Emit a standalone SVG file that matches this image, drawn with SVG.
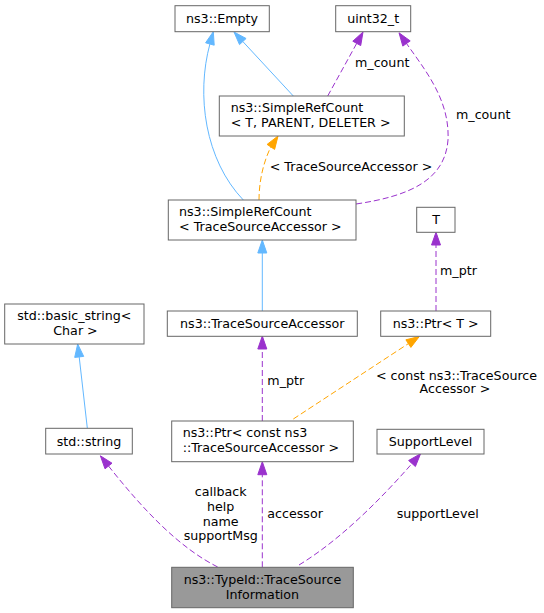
<svg xmlns="http://www.w3.org/2000/svg" width="544" height="613" viewBox="0 0 544 613">
<style>
text{font-family:"DejaVu Sans","Noto Sans",sans-serif;font-size:12.67px;fill:#000}
.m{text-anchor:middle}
.box{fill:#fff;stroke:#666;stroke-width:1}
.cur{fill:#999;stroke:#666;stroke-width:1}
.b{fill:none;stroke:#63b8ff;stroke-width:1}
.p{fill:none;stroke:#9a32cd;stroke-width:1;stroke-dasharray:6,3}
.o{fill:none;stroke:#ffa500;stroke-width:1;stroke-dasharray:6,3}
.bh{fill:#63b8ff;stroke:#63b8ff}
.ph{fill:#9a32cd;stroke:#9a32cd}
.oh{fill:#ffa500;stroke:#ffa500}
</style>
<rect width="544" height="613" fill="#fff"/>
<g id="connectors">
<path class="b" d="M243.3,200 C205,160 196,95 209.9,44"/>
<polygon class="bh" points="213.3,31.7 214.2,45.2 205.6,42.8"/>
<path class="b" d="M293.3,96 L242.8,41.5"/>
<polygon class="bh" points="234,32 246.1,38.5 239.5,44.6"/>
<path class="p" d="M327.7,96 L356.7,43.4"/>
<polygon class="ph" points="363,32 360.7,45.6 352.8,41.2"/>
<text x="355" y="67">m_count</text>
<path class="p" d="M356,204 C410,196 445,180 448,140 C450,100 425,70 406.5,43.5"/>
<polygon class="ph" points="399,32.8 410.2,40.9 402.8,46.1"/>
<text x="456" y="119">m_count</text>
<path class="o" d="M259,200 C259,182 263,163 270.85,146.9"/>
<polygon class="oh" points="278,136 274.6,149.4 267.1,144.4"/>
<text class="m" x="351" y="170.5">&lt; TraceSourceAccessor &gt;</text>
<path class="b" d="M262.3,311 L262.3,253"/>
<polygon class="bh" points="262.3,240 266.8,253 257.8,253"/>
<path class="p" d="M436,311 L436,245"/>
<polygon class="ph" points="436,232.3 440.5,245 431.5,245"/>
<text x="440" y="275">m_ptr</text>
<path class="b" d="M87.3,428 L79.2,356.9"/>
<polygon class="bh" points="77.7,344 83.7,356.4 74.7,357.4"/>
<path class="p" d="M262.3,421 L262.3,349"/>
<polygon class="ph" points="262.3,336 266.8,349 257.8,349"/>
<text x="267.3" y="385">m_ptr</text>
<path class="o" d="M293.3,419 L408.4,343.6"/>
<polygon class="oh" points="419.3,336.5 410.9,347.4 405.9,339.8"/>
<text class="m" x="456.5" y="379.5">&lt; const ns3::TraceSource</text>
<text class="m" x="455" y="393">Accessor &gt;</text>
<path class="p" d="M217.7,567 C180,548 145,512 108.5,466"/>
<polygon class="ph" points="100.4,455.8 112,463.2 105,468.8"/>
<text class="m" x="220.7" y="496">callback</text>
<text class="m" x="220.7" y="511">help</text>
<text class="m" x="220.7" y="525.5">name</text>
<text class="m" x="220.7" y="540">supportMsg</text>
<path class="p" d="M262.3,567.3 L262.3,474.7"/>
<polygon class="ph" points="262.3,461.7 266.8,474.7 257.8,474.7"/>
<text x="267.3" y="518">accessor</text>
<path class="p" d="M299,565 C340,540 380,500 412,463.5"/>
<polygon class="ph" points="420.6,453.7 415.4,466.5 408.6,460.5"/>
<text x="396.7" y="518">supportLevel</text>
</g>
<g id="node-empty"><rect class="box" x="175" y="5.7" width="94.3" height="26"/><text class="m" x="222" y="22.5">ns3::Empty</text></g>
<g id="node-uint32"><rect class="box" x="335.7" y="5.7" width="75" height="26"/><text class="m" x="373.2" y="22.5">uint32_t</text></g>
<g id="node-src-tpd"><rect class="box" x="219.3" y="96" width="185" height="40"/><text x="230.7" y="112">ns3::SimpleRefCount</text><text x="230.7" y="127">&lt; T, PARENT, DELETER &gt;</text></g>
<g id="node-src-tsa"><rect class="box" x="168.3" y="200" width="187.7" height="40"/><text x="179" y="216">ns3::SimpleRefCount</text><text x="179" y="231">&lt; TraceSourceAccessor &gt;</text></g>
<g id="node-t"><rect class="box" x="416.7" y="207.3" width="38.3" height="25"/><text class="m" x="436" y="224">T</text></g>
<g id="node-basic-string"><rect class="box" x="4.7" y="304" width="139.3" height="40"/><text class="m" x="74.3" y="320">std::basic_string&lt;</text><text class="m" x="75.5" y="335">Char &gt;</text></g>
<g id="node-tsa"><rect class="box" x="167.3" y="311" width="190" height="25.3"/><text class="m" x="262.3" y="327.5">ns3::TraceSourceAccessor</text></g>
<g id="node-ptr-t"><rect class="box" x="380.7" y="311" width="110" height="25.3"/><text class="m" x="435.7" y="327.5">ns3::Ptr&lt; T &gt;</text></g>
<g id="node-string"><rect class="box" x="45.7" y="428.3" width="86.6" height="25.7"/><text class="m" x="89" y="445.5">std::string</text></g>
<g id="node-ptr-const"><rect class="box" x="171.7" y="421" width="181.6" height="40.7"/><text x="182.7" y="437">ns3::Ptr&lt; const ns3</text><text x="182.7" y="451.5">::TraceSourceAccessor &gt;</text></g>
<g id="node-supportlevel"><rect class="box" x="377" y="429.3" width="107" height="24.7"/><text class="m" x="430.5" y="446">SupportLevel</text></g>
<g id="node-typeid"><rect class="cur" x="171.7" y="567.3" width="181.6" height="40.4"/><text class="m" x="262.5" y="584">ns3::TypeId::TraceSource</text><text class="m" x="262.5" y="599">Information</text></g>
</svg>
